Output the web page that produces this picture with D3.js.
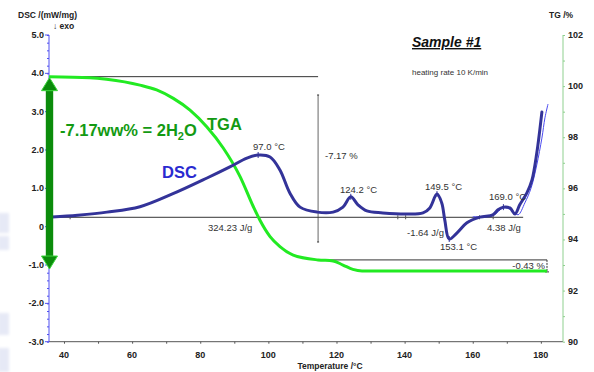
<!DOCTYPE html>
<html>
<head>
<meta charset="utf-8">
<script src="https://cdn.jsdelivr.net/npm/d3@7"></script>
<style>
  html, body { margin: 0; padding: 0; background: #fff; }
  svg { display: block; font-family: "Liberation Sans", Arial, sans-serif; }
</style>
</head>
<body>
<svg id="chart" width="594" height="372"></svg>
<script>
// Temperature (°C) and values of the thermogravimetric curve (TG, %)
const tgaT = [35.6, 47.6, 52.5, 62.3, 67.2, 72.1, 77.0, 81.9, 86.8, 91.7, 95.6, 97.5, 100.5, 103.4, 107.3, 114.6, 119.0, 121.9, 124.8, 127.5, 135.7, 160.0, 181.8];
const tgaV = [100.37, 100.33, 100.27, 100.04, 99.85, 99.52, 99.06, 98.41, 97.57, 96.46, 95.28, 94.76, 94.11, 93.72, 93.39, 93.20, 93.16, 93.00, 92.83, 92.77, 92.77, 92.77, 92.77];

// DSC signal (mW/mg)
const dscT = [36.5, 44.0, 52.6, 62.3, 72.0, 82.0, 88.7, 93.7, 97.0, 100.5, 103.4, 106.3, 109.3, 114.3, 119.0, 121.9, 124.2, 126.3, 128.9, 133.6, 140.7, 145.4, 147.4, 149.5, 150.9, 151.8, 153.1, 155.4, 158.3, 162.1, 165.9, 167.4, 169.0, 170.9, 172.4, 173.8, 175.9, 177.4, 178.8, 180.3];
const dscV = [0.25, 0.30, 0.38, 0.52, 0.86, 1.27, 1.56, 1.79, 1.87, 1.82, 1.48, 0.88, 0.51, 0.38, 0.38, 0.51, 0.78, 0.57, 0.41, 0.36, 0.33, 0.36, 0.49, 0.85, 0.62, 0.17, -0.32, -0.16, 0.10, 0.25, 0.31, 0.44, 0.51, 0.49, 0.33, 0.57, 0.88, 1.22, 1.92, 2.99];

// Second (thin) DSC trace at the end of the run
const dsc2T = [160.0, 165.9, 169.0, 171.5, 173.3, 175.3, 177.1, 178.8, 180.3, 181.2, 182.1];
const dsc2V = [0.26, 0.29, 0.49, 0.43, 0.31, 0.62, 1.00, 1.61, 2.31, 2.84, 3.20];

// Peak annotations
const peakT = [97.0, 124.2, 149.5, 153.1, 169.0];
const peakLabels = ["97.0 °C", "124.2 °C", "149.5 °C", "153.1 °C", "169.0 °C"];

// Axis ticks
const xTicks = [40, 60, 80, 100, 120, 140, 160, 180];
const dscTicks = [5, 4, 3, 2, 1, 0, -1, -2, -3];
const dscTickLabels = ["5.0", "4.0", "3.0", "2.0", "1.0", "0", "-1.0", "-2.0", "-3.0"];
const tgTicks = [102, 100, 98, 96, 94, 92, 90];

// Mass-loss steps
const stepStart = 100.37, stepMid = 93.20, stepEnd = 92.77;
const dscBaseline = 0.245;

const svg = d3.select("#chart");

const x = d3.scaleLinear().domain([35.6, 186.5]).range([49, 563]);
const yL = d3.scaleLinear().domain([-3, 5]).range([341.7, 35]);
const yR = d3.scaleLinear().domain([90, 102]).range([341.7, 35]);

// faint background patches at the left edge
const defs = svg.append("defs");
defs.append("filter").attr("id", "soft").append("feGaussianBlur").attr("stdDeviation", 1.5);
const bg = svg.append("g").attr("filter", "url(#soft)");
[[213, 20], [236, 14], [313, 22], [348, 24]].forEach(([y0, h]) => {
  bg.append("rect").attr("x", -2).attr("y", y0).attr("width", 11).attr("height", h)
    .attr("fill", "#e6e9f6");
});

// ---- axes ----
const axX = svg.append("g").attr("transform", `translate(0,${yL(-3)})`)
  .call(d3.axisBottom(x).tickValues(d3.range(40, 181, 10)).tickSize(2).tickFormat(""));
axX.select(".domain").attr("stroke", "#555").attr("d", `M49,0H563`);
axX.selectAll(".tick line").attr("stroke", "#555");
svg.append("g").selectAll("text").data(xTicks).join("text")
  .attr("x", d => x(d)).attr("y", 358).attr("text-anchor", "middle")
  .attr("font-size", 9).attr("font-weight", "bold").attr("fill", "#222").text(d => d);

const axL = svg.append("g").attr("transform", `translate(${x(35.6)},0)`)
  .call(d3.axisLeft(yL).tickValues(d3.range(-3, 5.01, 0.2)).tickSize(2).tickFormat(""));
axL.select(".domain").attr("stroke", "#5050f0").attr("d", `M0,${yL(5)}V${yL(-3)}`);
axL.selectAll(".tick line").attr("stroke", "#5050f0");
svg.append("g").selectAll("line").data(dscTicks).join("line")
  .attr("x1", x(35.6) - 4).attr("x2", x(35.6)).attr("y1", d => yL(d)).attr("y2", d => yL(d))
  .attr("stroke", "#5050f0");
svg.append("g").selectAll("text").data(dscTicks).join("text")
  .attr("x", 44).attr("y", d => yL(d) + 3).attr("text-anchor", "end")
  .attr("font-size", 9).attr("font-weight", "bold").attr("fill", "#222")
  .text((d, i) => dscTickLabels[i]);

const axR = svg.append("g").attr("transform", `translate(${x(186.5)},0)`)
  .call(d3.axisRight(yR).tickValues(d3.range(90, 102.01, 1)).tickSize(2).tickFormat(""));
axR.select(".domain").attr("stroke", "#8fd08f").attr("d", `M0,${yR(102)}V${yR(90)}`);
axR.selectAll(".tick line").attr("stroke", "#8fd08f");
svg.append("g").selectAll("text").data(tgTicks).join("text")
  .attr("x", 568).attr("y", d => yR(d) + 3)
  .attr("font-size", 9).attr("font-weight", "bold").attr("fill", "#222").text(d => d);

// axis titles
svg.append("text").attr("x", 18).attr("y", 18).attr("font-size", 8.5).attr("font-weight", "bold")
  .attr("fill", "#222").text("DSC /(mW/mg)");
svg.append("text").attr("x", 53).attr("y", 29).attr("font-size", 8.5).attr("font-weight", "bold")
  .attr("fill", "#222").text("↓ exo");
svg.append("text").attr("x", 549).attr("y", 18).attr("font-size", 8.5).attr("font-weight", "bold")
  .attr("fill", "#222").text("TG /%");
svg.append("text").attr("x", 330).attr("y", 369).attr("text-anchor", "middle")
  .attr("font-size", 8.5).attr("font-weight", "bold").attr("fill", "#222").text("Temperature /°C");

// title
svg.append("text").attr("x", 412).attr("y", 47).attr("font-size", 14).attr("font-weight", "bold")
  .attr("font-style", "italic").attr("text-decoration", "underline").attr("fill", "#111").text("Sample #1");
svg.append("text").attr("x", 412).attr("y", 75).attr("font-size", 8).attr("fill", "#333")
  .text("heating rate 10 K/min");

// ---- evaluation lines ----
const ann = svg.append("g").attr("stroke", "#333").attr("stroke-width", 1).attr("fill", "none");
ann.append("line").attr("x1", x(35.6)).attr("x2", x(114.6))
  .attr("y1", yR(stepStart)).attr("y2", yR(stepStart));
ann.append("line").attr("x1", x(114.6)).attr("x2", x(181.8))
  .attr("y1", yR(stepMid)).attr("y2", yR(stepMid));
ann.append("line").attr("x1", x(114.6)).attr("x2", x(114.6)).attr("y1", 95).attr("y2", 242)
  .attr("stroke", "#666");
ann.append("line").attr("x1", x(114.6) - 1).attr("x2", x(114.6) + 1).attr("y1", 95).attr("y2", 95);
ann.append("line").attr("x1", x(114.6) - 1).attr("x2", x(114.6) + 1).attr("y1", 242).attr("y2", 242);
// second step marker
ann.append("line").attr("x1", x(181.8)).attr("x2", x(181.8))
  .attr("y1", yR(stepMid)).attr("y2", yR(stepEnd) + 1).attr("stroke-dasharray", "2,1");
ann.append("line").attr("x1", x(181.8) - 2).attr("x2", x(181.8) + 2)
  .attr("y1", yR(stepEnd) + 1).attr("y2", yR(stepEnd) + 1);
// DSC integration baseline
ann.append("line").attr("x1", x(35.6)).attr("x2", x(174.8))
  .attr("y1", yL(dscBaseline)).attr("y2", yL(dscBaseline));
[41.8, 138.0, 140.3, 162.0, 166.0].forEach(t => {
  ann.append("line").attr("x1", x(t)).attr("x2", x(t))
    .attr("y1", yL(dscBaseline) - 2).attr("y2", yL(dscBaseline) + 2).attr("stroke", "#555");
});

// ---- curves ----
const tgLine = d3.line().curve(d3.curveMonotoneX);
const dscLine = d3.line().curve(d3.curveCatmullRom.alpha(0.5));
svg.append("path")
  .attr("d", tgLine(tgaT.map((t, i) => [x(t), yR(tgaV[i])])))
  .attr("fill", "none").attr("stroke", "#22ea22").attr("stroke-width", 3);

svg.append("path")
  .attr("d", dscLine(dsc2T.map((t, i) => [x(t), yL(dsc2V[i])])))
  .attr("fill", "none").attr("stroke", "#4a4af0").attr("stroke-width", 1);

svg.append("path")
  .attr("d", dscLine(dscT.map((t, i) => [x(t), yL(dscV[i])])))
  .attr("fill", "none").attr("stroke", "#333399").attr("stroke-width", 3)
  .attr("stroke-linejoin", "round").attr("stroke-linecap", "round");

// peak markers
const peakV = peakT.map(t => dscV[dscT.indexOf(t)]);
svg.append("g").selectAll("line").data(peakT).join("line")
  .attr("x1", d => x(d)).attr("x2", d => x(d))
  .attr("y1", (d, i) => yL(peakV[i]) - 3).attr("y2", (d, i) => yL(peakV[i]) + 3)
  .attr("stroke", "#333399").attr("stroke-width", 1);

// ---- labels ----
const lbl = svg.append("g").attr("font-size", 9.5).attr("fill", "#333");
const peakPos = [[253, 150], [340, 193], [425, 190], [440, 250], [489, 200]];
peakLabels.forEach((s, i) => lbl.append("text").attr("x", peakPos[i][0]).attr("y", peakPos[i][1]).text(s));
lbl.append("text").attr("x", 208).attr("y", 231).text("324.23 J/g");
lbl.append("text").attr("x", 407).attr("y", 236).text("-1.64 J/g");
lbl.append("text").attr("x", 487).attr("y", 231).text("4.38 J/g");
lbl.append("text").attr("x", 325).attr("y", 159).text("-7.17 %");
lbl.append("text").attr("x", 545).attr("y", 269).attr("text-anchor", "end").text("-0.43 %");

// ---- double arrow ----
const ax0 = x(35.6) + 0.5, yTop = yR(stepStart) + 1, yBot = yL(-1) + 4;
const arrow = svg.append("g").attr("fill", "#0b8c0b").attr("stroke", "#3bd63b").attr("stroke-width", 1);
arrow.append("rect").attr("x", ax0 - 3.7).attr("y", yTop + 12).attr("width", 7.4)
  .attr("height", yBot - yTop - 24).attr("stroke", "none");
arrow.append("path").attr("d", `M${ax0},${yTop}L${ax0 + 8},${yTop + 13}L${ax0 - 8},${yTop + 13}Z`);
arrow.append("path").attr("d", `M${ax0},${yBot}L${ax0 + 8},${yBot - 13}L${ax0 - 8},${yBot - 13}Z`);

// callout text
const big = svg.append("g").attr("font-weight", "bold").attr("font-size", 16.5);
const t1 = big.append("text").attr("x", 60).attr("y", 136).attr("fill", "#139a13");
t1.append("tspan").text("-7.17ww% = 2H");
t1.append("tspan").attr("font-size", 11).attr("dy", 4).text("2");
t1.append("tspan").attr("dy", -4).text("O");
big.append("text").attr("x", 207).attr("y", 130).attr("fill", "#139a13").text("TGA");
big.append("text").attr("x", 162).attr("y", 178).attr("fill", "#2a2ad0").text("DSC");
</script>
</body>
</html>
